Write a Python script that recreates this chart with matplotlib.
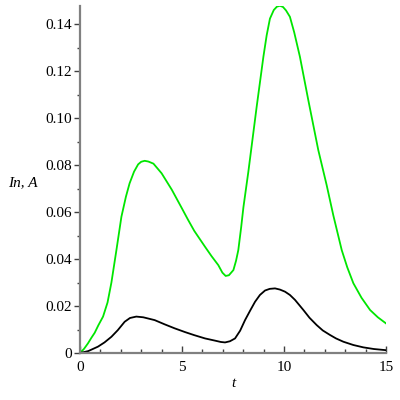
import numpy as np
import matplotlib.pyplot as plt
from matplotlib.ticker import MultipleLocator, FuncFormatter

# values
t_green = [0, 0.2, 0.39, 0.56, 0.72, 0.9, 1.13, 1.35, 1.54, 1.78, 2.03, 2.25, 2.43, 2.65,
           2.85, 3.0, 3.17, 3.35, 3.6, 4.0, 4.5, 5.0, 5.29, 5.6, 6.13, 6.45, 6.78, 6.98,
           7.14, 7.3, 7.52, 7.65, 7.76, 7.9, 8.01, 8.25, 8.42, 8.66, 8.99, 9.15, 9.31, 9.5,
           9.65, 9.8, 9.95, 10.1, 10.29, 10.5, 10.78, 11.19, 11.68, 12.09, 12.42, 12.83,
           13.1, 13.4, 13.8, 14.22, 14.6, 15.0]
I_green = [0, 0.0018, 0.0041, 0.0065, 0.0086, 0.0118, 0.0155, 0.0215, 0.0300, 0.0435,
           0.058, 0.0665, 0.0722, 0.0772, 0.0803, 0.0814, 0.0818, 0.0815, 0.0806, 0.0765,
           0.0695, 0.0615, 0.0568, 0.0520, 0.0452, 0.0412, 0.0374, 0.0342, 0.0328, 0.0331,
           0.0353, 0.0393, 0.0438, 0.0535, 0.0620, 0.0770, 0.0885, 0.1048, 0.1261, 0.1352,
           0.1423, 0.1460, 0.1474, 0.1478, 0.1473, 0.1458, 0.1431, 0.1365, 0.1261, 0.1077,
           0.0864, 0.0715, 0.0585, 0.0438, 0.0365, 0.0297, 0.0235, 0.0183, 0.0152, 0.0126]

t_black = [0, 0.4, 0.88, 1.2, 1.54, 1.85, 2.19, 2.45, 2.76, 3.1, 3.66, 4.15, 4.64, 5.15,
           5.6, 6.13, 6.6, 6.9, 7.11, 7.35, 7.6, 7.85, 8.09, 8.35, 8.58, 8.82, 9.07, 9.3,
           9.56, 9.8, 10.05, 10.29, 10.54, 10.95, 11.25, 11.6, 11.9, 12.25, 12.55, 12.91,
           13.4, 13.89, 14.4, 15.0]
I_black = [0, 0.0008, 0.0027, 0.0045, 0.0069, 0.0097, 0.0133, 0.0149, 0.0155, 0.0152,
           0.0140, 0.0122, 0.0105, 0.0089, 0.0076, 0.0062, 0.0053, 0.0047, 0.0045, 0.0050,
           0.0062, 0.0095, 0.0140, 0.0182, 0.0218, 0.0247, 0.0266, 0.0273, 0.0275, 0.0270,
           0.0261, 0.0247, 0.0226, 0.0183, 0.0150, 0.0119, 0.0096, 0.0077, 0.0062, 0.0048,
           0.0034, 0.0024, 0.0017, 0.0012]

plt.rcParams['font.family'] = ['Liberation Serif', 'DejaVu Serif']

fig = plt.figure(figsize=(4, 4), dpi=100)
ax = fig.add_axes([0.2, 0.1175, 0.765, 0.8675])

ax.plot(t_green, I_green, color='#00e600', lw=1.3, solid_joinstyle='round')
ax.plot(t_black, I_black, color='black', lw=1.3, solid_joinstyle='round')

ax.set_xlim(0, 15)
ax.set_ylim(0, 0.1477)

for s in ['top', 'right']:
    ax.spines[s].set_visible(False)
for s in ['left', 'bottom']:
    ax.spines[s].set_color('#808080')
    ax.spines[s].set_linewidth(1.6)

ax.xaxis.set_major_locator(MultipleLocator(5))
ax.xaxis.set_minor_locator(MultipleLocator(1))
ax.yaxis.set_major_locator(MultipleLocator(0.02))
ax.yaxis.set_minor_locator(MultipleLocator(0.01))

ax.xaxis.set_major_formatter(FuncFormatter(lambda v, p: '%d' % v))
ax.yaxis.set_major_formatter(FuncFormatter(lambda v, p: '0' if abs(v) < 1e-9 else '%.2f' % v))

ax.tick_params(axis='x', which='both', direction='in', color='#404040', labelsize=11, pad=6)
ax.tick_params(axis='x', which='major', length=5, width=1)
ax.tick_params(axis='x', which='minor', length=3, width=1)
ax.tick_params(axis='y', which='both', direction='out', color='#404040', labelsize=11, pad=2)
ax.tick_params(axis='y', which='major', length=4, width=1)
ax.tick_params(axis='y', which='minor', length=2.5, width=1)

ax.set_xlabel('t', style='italic', fontsize=11, labelpad=2)
ax.set_ylabel('In, A', style='italic', fontsize=11, rotation=0, ha='center', va='center')
ax.yaxis.set_label_coords(-0.186, 0.49)

fig.savefig('out.png', dpi=100)
